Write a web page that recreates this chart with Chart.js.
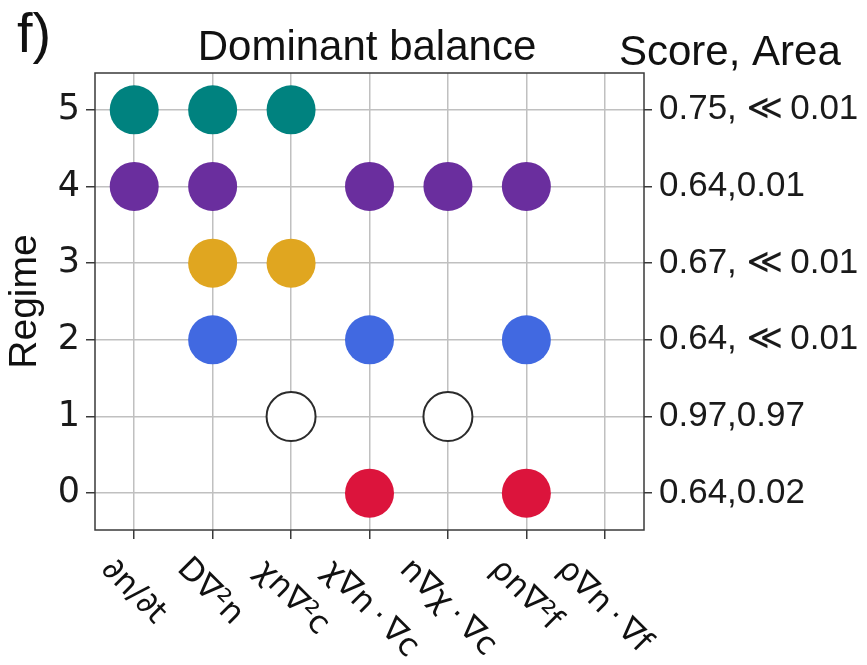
<!DOCTYPE html>
<html>
<head>
<meta charset="utf-8">
<script src="https://cdn.jsdelivr.net/npm/chart.js@4/dist/chart.umd.min.js"></script>
<style>
  html, body { margin: 0; padding: 0; background: #fff; }
  #wrap { width: 867px; height: 665px; }
</style>
</head>
<body>
<div id="wrap"><canvas id="c" width="867" height="665"></canvas></div>
<script>
// Terms of the balance equation (x categories)
const terms = ['∂n/∂t', 'D∇²n', 'χn∇²c', 'χ∇n\u2009·\u2009∇c', 'n∇χ\u2009·\u2009∇c', 'ρn∇²f', 'ρ∇n\u2009·\u2009∇f'];
// Regime numbers (y categories)
const regimes = [0, 1, 2, 3, 4, 5];
// Score and area for each regime (right-hand labels)
const scoreArea = ['0.64,0.02', '0.97,0.97', '0.64, ≪\u20090.01', '0.67, ≪\u20090.01', '0.64,0.01', '0.75, ≪\u20090.01'];
// Active terms (indices into terms) for each regime
const regime0Terms = [3, 5];
const regime1Terms = [2, 4];
const regime2Terms = [1, 3, 5];
const regime3Terms = [1, 2];
const regime4Terms = [0, 1, 3, 4, 5];
const regime5Terms = [0, 1, 2];
const activeTerms = [regime0Terms, regime1Terms, regime2Terms, regime3Terms, regime4Terms, regime5Terms];

const fills = ['#dc143c', '#ffffff', '#4169e1', '#e0a620', '#6a2e9e', '#00827f'];
const edges = ['#dc143c', '#2b2b2b', '#4169e1', '#e0a620', '#6a2e9e', '#00827f'];

const datasets = regimes.map(r => ({
  label: 'Regime ' + r,
  data: activeTerms[r].map(t => ({ x: t, y: r })),
  backgroundColor: fills[r],
  borderColor: edges[r],
  borderWidth: r === 1 ? 2 : 0,
  pointRadius: 24.5,
  pointHoverRadius: 24.5
}));

const SANS = '"Liberation Sans", Arial, "DejaVu Sans", sans-serif';
const DEJA = '"DejaVu Sans", sans-serif';

const decor = {
  id: 'decor',
  afterDraw(chart) {
    const { ctx, chartArea: a, scales } = chart;
    ctx.save();
    // frame around the plotting area
    ctx.strokeStyle = '#3a3a3a';
    ctx.lineWidth = 1.5;
    ctx.strokeRect(a.left, a.top, a.right - a.left, a.bottom - a.top);

    // rotated term labels, each centred under its column
    ctx.fillStyle = '#111';
    ctx.font = '32px ' + DEJA;
    ctx.textAlign = 'left';
    ctx.textBaseline = 'alphabetic';
    const th = Math.PI / 4, c = Math.cos(th), s = Math.sin(th);
    const labelTop = a.bottom + 25;
    terms.forEach((t, i) => {
      const m = ctx.measureText(t);
      const x0 = -m.actualBoundingBoxLeft, x1 = m.actualBoundingBoxRight;
      const y0 = -m.actualBoundingBoxAscent, y1 = m.actualBoundingBoxDescent;
      const pts = [[x0, y0], [x1, y0], [x0, y1], [x1, y1]].map(([x, y]) => [x * c - y * s, x * s + y * c]);
      const xs = pts.map(p => p[0]), ys = pts.map(p => p[1]);
      const cx = (Math.min(...xs) + Math.max(...xs)) / 2;
      const px = scales.x.getPixelForValue(i) - cx;
      const py = labelTop - Math.min(...ys);
      ctx.save();
      ctx.translate(px, py);
      ctx.rotate(th);
      ctx.fillText(t, 0, 0);
      ctx.restore();
    });

    // titles
    ctx.font = '42px ' + SANS;
    ctx.textAlign = 'center';
    ctx.fillText('Dominant balance', 367, 60);
    ctx.textAlign = 'left';
    ctx.fillText('Score, Area', 619, 65);
    ctx.font = '56px ' + SANS;
    ctx.fillText('f)', 17, 52);

    ctx.font = '39px ' + SANS;
    ctx.textAlign = 'center';
    ctx.save();
    ctx.translate(36, (a.top + a.bottom) / 2);
    ctx.rotate(-Math.PI / 2);
    ctx.fillText('Regime', 0, 0);
    ctx.restore();
    ctx.restore();
  }
};

const gridCommon = { color: '#c0c0c0', lineWidth: 1.5, tickColor: '#3a3a3a', tickLength: 9 };

new Chart(document.getElementById('c'), {
  type: 'scatter',
  data: { datasets },
  options: {
    responsive: false,
    animation: false,
    events: [],
    layout: { padding: { top: 73, left: 0, right: 0, bottom: 0 } },
    plugins: { legend: { display: false }, tooltip: { enabled: false } },
    elements: { point: { hitRadius: 0 } },
    scales: {
      x: {
        type: 'linear', position: 'bottom', min: -0.5, max: 6.5,
        afterBuildTicks: sc => { sc.ticks = terms.map((_, i) => ({ value: i })); },
        afterFit: sc => { sc.height = 135; },
        grid: gridCommon,
        border: { display: false },
        ticks: { display: false }
      },
      y: {
        type: 'linear', position: 'left', min: -0.48, max: 5.48,
        afterBuildTicks: sc => { sc.ticks = regimes.map(r => ({ value: r })); },
        afterFit: sc => { sc.width = 95; },
        grid: gridCommon,
        border: { display: false },
        ticks: { font: { family: DEJA, size: 35 }, color: '#1a1a1a', padding: 6, callback: v => String(v) }
      },
      y2: {
        type: 'linear', position: 'right', min: -0.48, max: 5.48,
        afterBuildTicks: sc => { sc.ticks = regimes.map(r => ({ value: r })); },
        afterFit: sc => { sc.width = 223; },
        grid: Object.assign({}, gridCommon, { drawOnChartArea: false, tickLength: 8 }),
        border: { display: false },
        ticks: { font: { family: SANS, size: 35 }, color: '#1a1a1a', padding: 7, callback: v => scoreArea[v] }
      }
    }
  },
  plugins: [decor]
});
</script>
</body>
</html>
